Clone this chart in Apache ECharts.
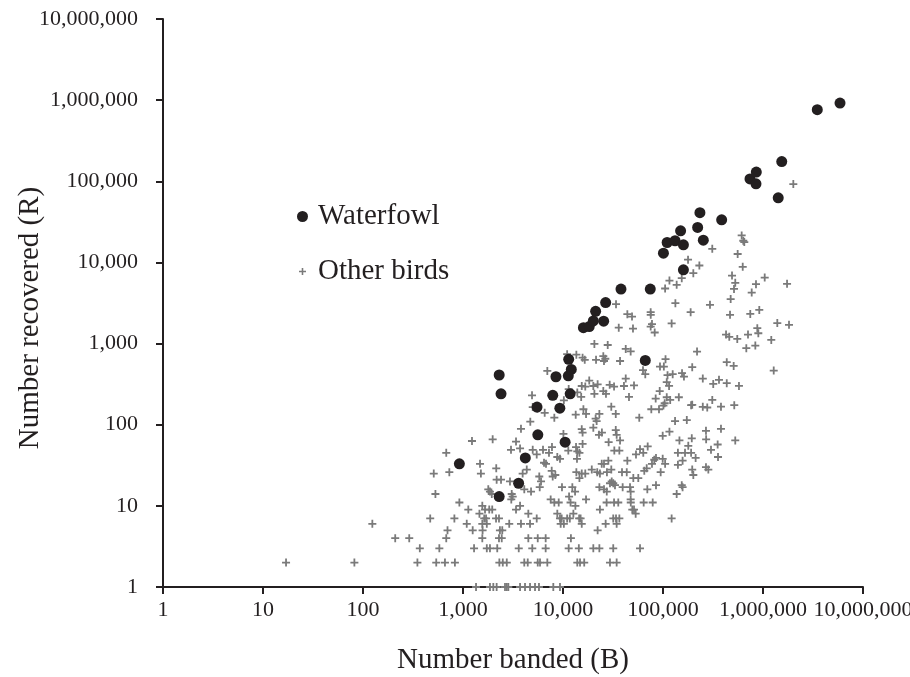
<!DOCTYPE html>
<html>
<head>
<meta charset="utf-8">
<script src="https://cdn.jsdelivr.net/npm/echarts@6/dist/echarts.min.js"></script>
<style>
html,body{margin:0;padding:0;background:#fff;}
#chart{width:910px;height:677px;}
</style>
</head>
<body>
<div id="chart"></div>
<script>
// ---- data ----
var xTickValues = [1, 10, 100, 1000, 10000, 100000, 1000000, 10000000];
var yTickValues = [1, 10, 100, 1000, 10000, 100000, 1000000, 10000000];

var waterfowlBanded = [920, 2300, 3600, 4200, 5600, 10500, 2300, 2400, 5500, 9300, 7900, 11800, 8500, 11300, 12100, 11400, 66500, 16000, 18300, 20100, 25500, 21200, 26700, 38000, 74600, 160000, 101000, 110000, 132000, 160000, 150000, 222000, 253000, 234000, 386000, 741000, 857000, 851000, 1420000, 1540000, 3490000, 5890000];
var waterfowlRecovered = [33, 13, 19, 39, 75, 61, 410, 240, 165, 160, 230, 240, 390, 400, 480, 640, 620, 1570, 1620, 1900, 1890, 2500, 3200, 4700, 4700, 8100, 13000, 17600, 18500, 16500, 24500, 27000, 18800, 41000, 33500, 107000, 130000, 93000, 62600, 175000, 762000, 920000];

// [number banded, number recovered]
var otherBirds = [
[680,45],[510,25],[730,26],[530,14],[920,11],[470,7],[820,7],[124,6],[700,5],[210,4],[290,4],[680,4],[370,3],[580,3],[17,2],[82,2],[350,2],[540,2],[660,2],[830,2],
[3800,89],[1230,63],[1980,66],[3390,62],[10100,77],[15400,88],[15700,80],[22900,75],[24500,80],[28600,61],[33700,86],[34400,75],[37200,64],[20100,92],
[3020,49],[3720,51],[4980,49],[6310,49],[7240,45],[7760,53],[5460,43],[8770,40],[9330,38],[11300,48],[13500,53],[13900,47],[14600,45],[15700,58],[13800,38],[32600,48],[36600,48],[53700,43],[58900,50],[63500,45],[70300,54],[85100,39],
[1480,33],[1510,25],[2150,29],[6460,34],[6760,33],[7710,27],[13600,26],[15400,25],[16700,25],[19400,28],[22000,26],[23400,25],[24400,33],[25700,33],[27500,26],[30400,28],[28400,36],[38900,26],[43400,26],[44000,36],[50500,22],[65000,27],[68700,29],[77600,33],[81800,37],
[2170,21],[2400,21],[2950,20],[3950,25],[4340,28],[5790,23],[6030,20],[7890,23],[8380,24],[9770,17],[12400,17],[14600,22],[17000,12],[23100,17],[25700,16],[27400,15],[29500,19],[30700,20],[31800,19],[33100,18],[39500,17],[46800,17],[47500,15],[56600,22],[69700,16],[85100,18],
[1790,16],[1860,15],[1940,14],[3070,14],[3040,12],[3140,13],[4100,16],[4790,15],[5850,17],[7530,12],[8190,11],[9060,11],[11500,13],[11900,11],[13200,15],[13300,10],[23400,9],[27300,11],[32400,11],[35700,11],[47500,12],[47600,11],[49300,9],[51300,9],[53300,8],[64100,11],[78900,11],
[1130,9],[1460,8],[1560,10],[1660,9],[1830,9],[1960,9],[1630,7],[1700,7],[2140,7],[2290,7],[2900,6],[3390,9],[3720,10],[4500,8],[5460,7],[8770,8],[9330,7],[9700,7],[10200,6],[11000,7],[11700,7],[12700,8],[14500,7],[15000,7],
[1090,6],[1250,5],[1560,6],[1570,5],[1730,6],[2340,5],[2470,5],[3800,6],[4680,6],[9480,6],[15400,6],[22200,5],[26700,6],[31800,7],[33900,7],[36600,7],[34400,6],
[1560,4],[2290,4],[2440,4],[4500,4],[5590,4],[6710,4],[12000,4],
[1290,3],[1730,3],[1860,3],[2200,3],[3610,3],[4930,3],[6710,3],[11400,3],[14400,3],[20100,3],[23100,3],[31800,3],[58900,3],
[2310,2],[2500,2],[2740,2],[4100,2],[4440,2],[5590,2],[5890,2],[6970,2],[13900,2],[14800,2],[16300,2],[29500,2],[34400,2],
[1350,1],[1860,1],[2010,1],[2170,1],[2630,1],[2740,1],[2840,1],[3720,1],[4170,1],[4680,1],[5250,1],[5750,1],[8000,1],[9330,1],
[33900,3060],[44000,2300],[49000,2150],[75300,2440],[75400,2260],[77600,1740],[75300,1620],[36100,1570],[50100,1530],[82600,1370],[20600,990],[28000,960],[42400,860],[47500,800],[11000,740],[13600,730],[15700,670],[16500,630],[21400,630],[25300,700],[26500,650],[25700,610],[37200,610],[63100,470],[66500,420],[6970,460],[18300,350],[15400,300],[16700,295],[20100,300],[22200,315],[29300,310],[32400,295],[40700,300],[42400,370],[51300,305],[13900,250],[15200,220],[20600,240],[25300,260],[26900,240],[45700,220],[92700,260],[84500,210],[4900,230],[4980,165],[5530,157],[6560,140],[11400,275],[10200,200],[16000,155],[17000,136],[13400,133],[21200,119],[21700,111],[23100,136],[30400,167],[33700,136],[8190,122],[57900,122],[76400,155],[91200,155],[4710,109],
[2010000,92300],[612000,21500],[635000,18500],[650000,17800],[311000,14700],[558000,12700],[178000,10800],[231000,9160],[201000,7380],[627000,8830],[490000,6890],[528000,5600],[513000,4720],[851000,5400],[1040000,6510],[1740000,5450],[771000,4250],[116000,5980],[154000,6400],[137000,5290],[105000,4770],[133000,3150],[189000,2440],[295000,3000],[475000,3530],[468000,2260],[746000,2320],[918000,2600],[1390000,1790],[1820000,1700],[122000,1770],[877000,1550],[898000,1340],[427000,1290],[460000,1210],[553000,1140],[708000,1290],[1210000,1110],[681000,877],[838000,945],[219000,797],[106000,642],[102000,521],[93300,521],[196000,512],[434000,590],[509000,531],[1280000,465],[111000,408],[125000,420],[155000,432],[162000,392],[250000,370],[318000,318],[363000,357],[434000,325],[575000,301],[109000,334],[115000,301],[109000,218],[118000,202],[104000,184],[101000,172],[144000,218],[191000,174],[196000,176],[250000,166],[277000,163],[311000,202],[380000,167],[516000,174],[132000,111],[173000,114],[380000,89],
[116000,82],[99300,73],[269000,84],[146000,64],[194000,68],[270000,66],[528000,64],[179000,55],[352000,57],[302000,49],[141000,45],[166000,45],[191000,45],[212000,39],[355000,40],[99300,38],[105000,33],[94800,26],[157000,36],[141000,32],[196000,28],[201000,24],[269000,30],[284000,28],[154000,18],[157000,17],[137000,14],[122000,7]
];

// ---- chart ----
var FONT = '"Liberation Serif", "Times New Roman", serif';
var INK = '#231f20';
var GREY = '#7a7a7a';
var PLUS = 'path://M3.1,0H4.9V3.1H8V4.9H4.9V8H3.1V4.9H0V3.1H3.1Z';

function commas(v) {
  var s = String(Math.round(v));
  return s.replace(/\B(?=(\d{3})+(?!\d))/g, ',');
}

var waterfowlData = waterfowlBanded.map(function (b, i) { return [b, waterfowlRecovered[i]]; });

var chart = echarts.init(document.getElementById('chart'), null, {renderer: 'canvas'});
var axisCommon = {
  type: 'log',
  logBase: 10,
  min: xTickValues[0],
  max: xTickValues[xTickValues.length - 1],
  splitNumber: 7,
  axisLine: {show: true, lineStyle: {color: INK, width: 2}},
  axisTick: {show: true, inside: false, length: 7, lineStyle: {color: INK, width: 2}},
  splitLine: {show: false},
  minorTick: {show: false},
  nameLocation: 'middle',
  nameMoveOverlap: false
};

chart.setOption({
  animation: false,
  backgroundColor: '#ffffff',
  grid: {left: 163, right: 47, top: 19, bottom: 90, containLabel: false, outerBoundsMode: 'none'},
  xAxis: Object.assign({}, axisCommon, {
    name: 'Number banded (B)',
    nameGap: 59,
    nameTextStyle: {fontFamily: FONT, fontSize: 29, color: INK},
    axisLabel: {margin: 12, fontFamily: FONT, fontSize: 22, color: INK, formatter: commas}
  }),
  yAxis: Object.assign({}, axisCommon, {
    min: yTickValues[0],
    max: yTickValues[yTickValues.length - 1],
    name: 'Number recovered (R)',
    nameGap: 118,
    nameTextStyle: {fontFamily: FONT, fontSize: 29, color: INK, padding: [0, 30, 0, 0]},
    axisLabel: {margin: 25, fontFamily: FONT, fontSize: 22, color: INK, formatter: commas}
  }),
  legend: [
    {
      data: [{name: 'Waterfowl', icon: 'circle'}],
      left: 292, top: 197, orient: 'vertical',
      itemWidth: 11, itemHeight: 11,
      textStyle: {fontFamily: FONT, fontSize: 29, color: INK, padding: [0, 0, 0, 5]},
      selectedMode: false
    },
    {
      data: [{name: 'Other birds', icon: PLUS}],
      left: 294, top: 252, orient: 'vertical',
      itemWidth: 7, itemHeight: 7,
      textStyle: {fontFamily: FONT, fontSize: 29, color: INK, padding: [0, 0, 0, 7]},
      selectedMode: false
    }
  ],
  series: [
    {
      name: 'Other birds',
      type: 'scatter',
      symbol: PLUS,
      symbolSize: 8,
      itemStyle: {color: GREY, opacity: 1},
      data: otherBirds,
      clip: false,
      z: 3
    },
    {
      name: 'Waterfowl',
      type: 'scatter',
      symbol: 'circle',
      symbolSize: 11,
      itemStyle: {color: INK, opacity: 1},
      data: waterfowlData,
      clip: false,
      z: 4
    }
  ]
});
</script>
</body>
</html>
